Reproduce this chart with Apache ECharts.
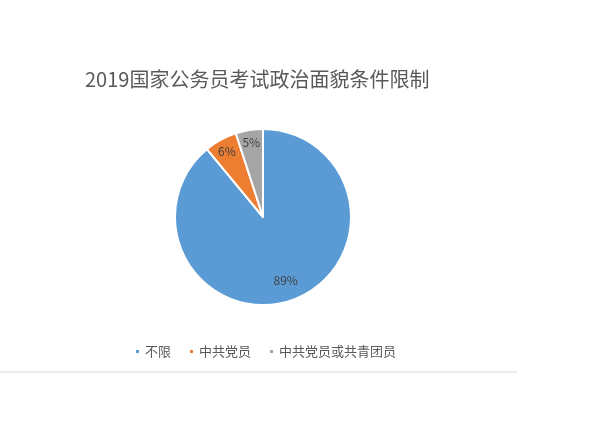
<!DOCTYPE html>
<html><head><meta charset="utf-8">
<script src="https://cdn.jsdelivr.net/npm/echarts@6/dist/echarts.min.js"></script>
<style>html,body{margin:0;padding:0;background:#fff}#c{width:600px;height:426px}</style>
</head><body><div id="c"></div>
<script>
const titleText = '2019国家公务员考试政治面貌条件限制';
const categories = ['不限', '中共党员', '中共党员或共青团员'];
const values = [89, 6, 5];
const colors = ['#5B9BD5', '#ED7D31', '#A5A5A5'];

const data = categories.map((n, i) => ({ name: n, value: values[i], itemStyle: { color: colors[i] } }));
const font = '"Noto Sans CJK SC", "Noto Sans", sans-serif';
const labelStyle = { position: 'inside', formatter: '{c}%', fontFamily: font, fontSize: 12, color: '#404040' };
// ghost rings used only to place the labels at slightly different depths
const ghost = (inner, showIdx) => ({
  type: 'pie', center: [263, 217], radius: [inner, 88], startAngle: 90, clockwise: true,
  data: categories.map((n, i) => ({ name: n, value: values[i], label: { show: showIdx.includes(i) } })),
  itemStyle: { color: 'rgba(0,0,0,0)', borderWidth: 0 },
  silent: true, legendHoverLink: false,
  label: labelStyle, labelLine: { show: false },
  emphasis: { disabled: true }
});
const chart = echarts.init(document.getElementById('c'), null, { renderer: 'canvas' });
chart.setOption({
  backgroundColor: '#fff',
  animation: false,
  title: {
    text: titleText, left: 80, top: 64,
    textStyle: { fontFamily: font, fontSize: 20, fontWeight: 'normal', color: '#595959' }
  },
  legend: {
    data: categories, left: 129, top: 340, icon: 'rect', itemWidth: 5, itemHeight: 5, itemGap: 17,
    textStyle: { fontFamily: font, fontSize: 13, color: '#595959' }
  },
  graphic: [{
    type: 'line', shape: { x1: 0, y1: 372, x2: 517, y2: 372 },
    style: { stroke: '#d9d9d9', lineWidth: 1 }
  }],
  series: [{
    type: 'pie', center: [263, 217], radius: [0, 88], startAngle: 90, clockwise: true,
    data: data,
    itemStyle: { borderColor: '#fff', borderWidth: 2 },
    label: { show: false }, labelLine: { show: false },
    emphasis: { disabled: true }
  }, ghost(40, [0]), ghost(56, [1, 2])]
});
</script></body></html>
